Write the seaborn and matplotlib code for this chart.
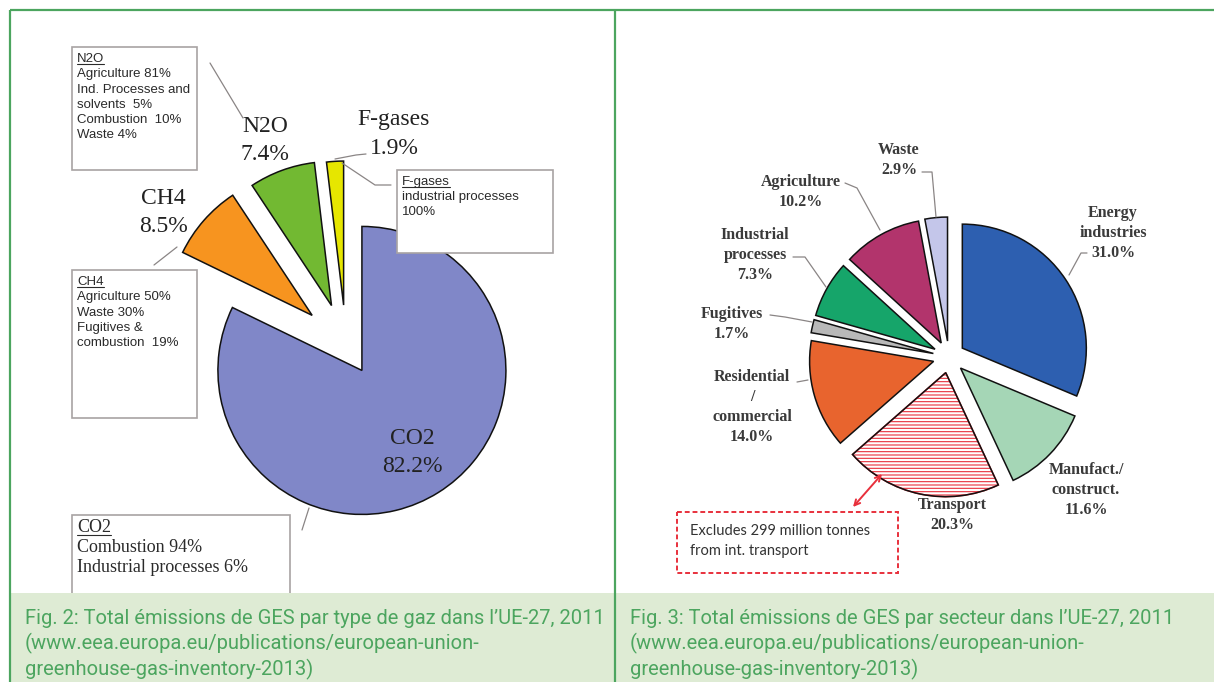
import matplotlib
matplotlib.use("Agg")
import matplotlib.pyplot as plt
from matplotlib.patches import Rectangle, Wedge
import seaborn as sns

sns.set_theme(style="white")
plt.rcParams["hatch.linewidth"] = 0.8

# --- Fig. 2 : emissions by gas
gas_names = ["CO2", "CH4", "N2O", "F-gases"]
gas_shares = [82.2, 8.5, 7.4, 1.9]
gas_colors = ["#8087c8", "#f7941f", "#72b932", "#e6e600"]

n2o_detail = ["Agriculture 81%", "Ind. Processes and", "solvents  5%", "Combustion  10%", "Waste 4%"]
ch4_detail = ["Agriculture 50%", "Waste 30%", "Fugitives &", "combustion  19%"]
fgas_detail = ["industrial processes", "100%"]
co2_detail = ["Combustion 94%", "Industrial processes 6%"]

# --- Fig. 3 : emissions by sector
sector_names = ["Energy\nindustries", "Manufact./\nconstruct.", "Transport",
                "Residential\n/\ncommercial", "Fugitives", "Industrial\nprocesses",
                "Agriculture", "Waste"]
sector_shares = [31.0, 11.6, 20.3, 14.0, 1.7, 7.3, 10.2, 2.9]
sector_colors = ["#2d5fb0", "#a5d6b6", "#ffffff", "#e8642e", "#b8b8b8",
                 "#16a56a", "#b2346c", "#c4c6ea"]
transport_note = ["Excludes 299 million tonnes", "from int. transport"]

captions = [
    ["Fig. 2: Total émissions de GES par type de gaz dans l\u2019UE-27, 2011",
     "(www.eea.europa.eu/publications/european-union-",
     "greenhouse-gas-inventory-2013)"],
    ["Fig. 3: Total émissions de GES par secteur dans l\u2019UE-27, 2011",
     "(www.eea.europa.eu/publications/european-union-",
     "greenhouse-gas-inventory-2013)"],
]

GREEN = "#4ca55f"
RED = "#e8303c"
GREY = "#8a8585"
SERIF = ["Liberation Serif", "DejaVu Serif"]
SANS = ["Liberation Sans", "DejaVu Sans"]

fig = plt.figure(figsize=(12.14, 6.82), dpi=100)
ax = fig.add_axes([0, 0, 1, 1])

# pies drawn in pixel coordinates (y axis inverted -> startangle -90, counterclock)
gas_wedges, _ = ax.pie(gas_shares, colors=gas_colors, center=(346, 345), radius=144,
                       explode=[30, 45, 42, 40], startangle=-90, counterclock=True,
                       frame=True, wedgeprops=dict(edgecolor="#111111", linewidth=1.1))
sec_wedges, _ = ax.pie(sector_shares, colors=sector_colors, center=(949, 357), radius=124,
                       explode=[16] * len(sector_shares), startangle=-90, counterclock=True,
                       frame=True, wedgeprops=dict(edgecolor="#111111", linewidth=1.1))

# transport slice: red hatching, black outline on top
tw = sec_wedges[sector_names.index("Transport")]
tw.set_hatch("-----")
tw.set_edgecolor(RED)
ax.add_patch(Wedge(tw.center, tw.r, tw.theta1, tw.theta2, fill=False,
                   edgecolor="#111111", linewidth=1.1, zorder=tw.get_zorder() + 0.1))

ax.set_xlim(0, 1214)
ax.set_ylim(682, 0)
ax.set_aspect("auto")
ax.axis("off")


def stack(x, y, lines, step, **kw):
    out = []
    for i, s in enumerate(lines):
        out.append(ax.text(x, y + i * step, s, va="center", **kw))
    return out


# gas labels
gas_pos = {"CO2": (412, 439), "CH4": (163, 199), "N2O": (265, 127), "F-gases": (394, 120)}
for name, share in zip(gas_names, gas_shares):
    x, y = gas_pos[name]
    stack(x, y, [name, f"{share:.1f}%"], 28, ha="center", fontsize=17,
          family=SERIF, color="#222222")

# sector labels
sec_pos = [(1113, 213), (1086, 470), (952, 505), (752, 377), (732, 314),
           (755, 235), (801, 182), (899, 150)]
for name, share, (x, y) in zip(sector_names, sector_shares, sec_pos):
    stack(x, y, name.split("\n") + [f"{share:.1f}%"], 20, ha="center", fontsize=11.5,
          family=SERIF, weight="bold", color="#3a3a3a")

# leader lines
leaders = [
    [(210, 63), (243, 118)],
    [(366, 154), (356, 155), (335, 159)],
    [(342, 163), (375, 185), (391, 185)],
    [(177, 247), (154, 265)],
    [(309, 508), (302, 530)],
    [(922, 172), (932, 172), (936, 217)],
    [(845, 183), (857, 188), (880, 230)],
    [(793, 257), (805, 257), (826, 287)],
    [(770, 315), (785, 317), (812, 322)],
    [(797, 382), (808, 380)],
    [(1087, 253), (1081, 253), (1069, 275)],
]
for pts in leaders:
    xs, ys = zip(*pts)
    ax.plot(xs, ys, color=GREY, lw=0.9)

# detail boxes
fig.canvas.draw()
rend = fig.canvas.get_renderer()
inv = ax.transData.inverted()


def detail_box(x0, y0, x1, y1, head, lines, step, size, family):
    ax.add_patch(Rectangle((x0, y0), x1 - x0, y1 - y0, facecolor="white",
                           edgecolor="#a8a3a3", lw=1.2, zorder=3))
    txt = stack(x0 + 5, y0 + 12, [head] + lines, step, ha="left", fontsize=size,
                family=family, color="#2a2a2a", zorder=4)
    bb = txt[0].get_window_extent(renderer=rend).transformed(inv)
    ax.plot([bb.x0, bb.x1], [max(bb.y0, bb.y1) - 1] * 2, color="#2a2a2a", lw=0.8, zorder=4)


detail_box(72, 47, 197, 170, "N2O", n2o_detail, 15.3, 9.5, SANS)
detail_box(397, 170, 553, 253, "F-gases", fgas_detail, 15, 9.5, SANS)
detail_box(72, 270, 197, 418, "CH4", ch4_detail, 15.3, 9.5, SANS)
detail_box(72, 515, 290, 640, "CO2", co2_detail, 20.5, 13, SERIF)

# transport note
ax.add_patch(Rectangle((677, 512), 221, 61, facecolor="white", edgecolor=RED,
                       lw=1.4, ls=(0, (2.5, 1.5)), zorder=3))
stack(690, 531, transport_note, 20, ha="left", fontsize=10.5,
      family=["Lato", "DejaVu Sans"], color="#333333", zorder=4)
ax.annotate("", xy=(882, 474), xytext=(853, 507),
            arrowprops=dict(arrowstyle="<->", color=RED, lw=1.4,
                            shrinkA=0, shrinkB=0, mutation_scale=10))

# caption band and frame
ax.add_patch(Rectangle((10, 593), 1204, 89, facecolor="#deebd4", edgecolor="none", zorder=5))
for x0, lines in zip([25, 630], captions):
    for i, s in enumerate(lines):
        ax.text(x0, 624 + i * 25.5, s, va="baseline", ha="left", fontsize=14.5,
                family=["Roboto", "DejaVu Sans"],
                color=GREEN, zorder=6)
ax.plot([10, 1214], [10, 10], color=GREEN, lw=1.6, zorder=7, solid_capstyle="butt")
ax.plot([10, 10], [10, 682], color=GREEN, lw=1.6, zorder=7, solid_capstyle="butt")
ax.plot([615, 615], [10, 682], color=GREEN, lw=1.6, zorder=7, solid_capstyle="butt")

fig.savefig("out.png", dpi=100, facecolor="white")
